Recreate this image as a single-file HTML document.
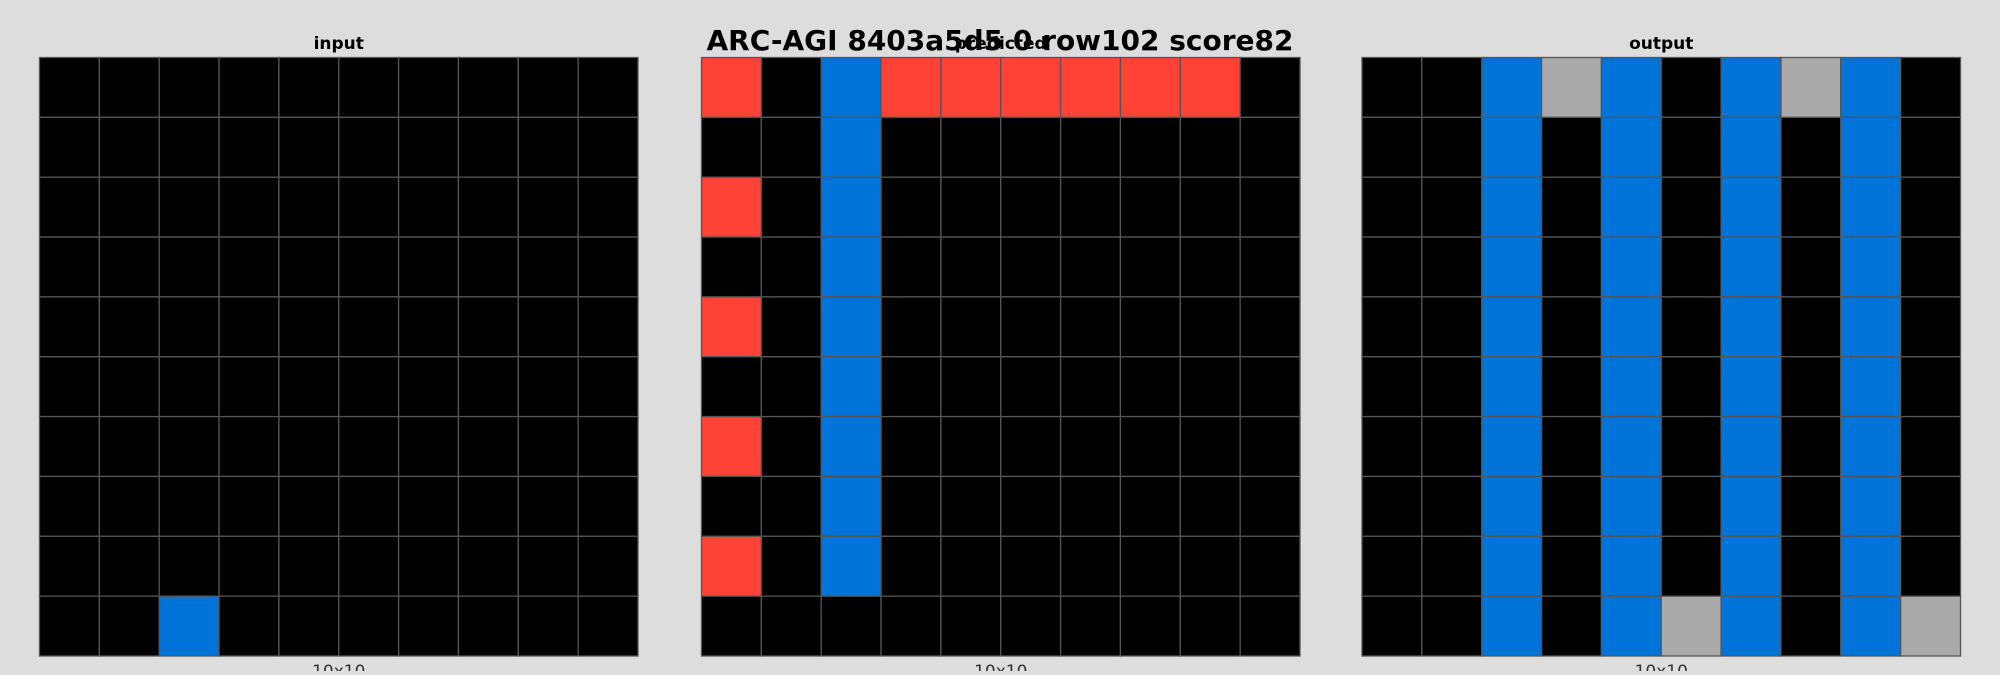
<!DOCTYPE html>
<html><head><meta charset="utf-8"><style>
html,body{margin:0;padding:0;background:#dddddd;}
body{width:2000px;height:671px;overflow:hidden;position:relative;font-family:"DejaVu Sans","Liberation Sans",sans-serif;}
</style></head><body>
<svg id="chart" width="2000" height="671" xmlns="http://www.w3.org/2000/svg"></svg>
<script>
const palette = ["#000000","#0074D9","#FF4136","#2ECC40","#FFDC00","#AAAAAA","#F012BE","#FF851B","#7FDBFF","#870C25"];
const panelTitles = ["input","predicted","output"];
const inputGrid = [
[0,0,0,0,0,0,0,0,0,0],[0,0,0,0,0,0,0,0,0,0],[0,0,0,0,0,0,0,0,0,0],[0,0,0,0,0,0,0,0,0,0],[0,0,0,0,0,0,0,0,0,0],
[0,0,0,0,0,0,0,0,0,0],[0,0,0,0,0,0,0,0,0,0],[0,0,0,0,0,0,0,0,0,0],[0,0,0,0,0,0,0,0,0,0],[0,0,1,0,0,0,0,0,0,0]];
const predictedGrid = [
[2,0,1,2,2,2,2,2,2,0],[0,0,1,0,0,0,0,0,0,0],[2,0,1,0,0,0,0,0,0,0],[0,0,1,0,0,0,0,0,0,0],[2,0,1,0,0,0,0,0,0,0],
[0,0,1,0,0,0,0,0,0,0],[2,0,1,0,0,0,0,0,0,0],[0,0,1,0,0,0,0,0,0,0],[2,0,1,0,0,0,0,0,0,0],[0,0,0,0,0,0,0,0,0,0]];
const outputGrid = [
[0,0,1,5,1,0,1,5,1,0],[0,0,1,0,1,0,1,0,1,0],[0,0,1,0,1,0,1,0,1,0],[0,0,1,0,1,0,1,0,1,0],[0,0,1,0,1,0,1,0,1,0],
[0,0,1,0,1,0,1,0,1,0],[0,0,1,0,1,0,1,0,1,0],[0,0,1,0,1,0,1,0,1,0],[0,0,1,0,1,0,1,0,1,0],[0,0,1,0,1,5,1,0,1,5]];
const grids = [inputGrid, predictedGrid, outputGrid];
const NS="http://www.w3.org/2000/svg";
const svg=document.getElementById('chart');
const panelX=[39.5,701.5,1362];
const gridTop=57.5, gridSize=598.5;
function mk(tag,attrs){const e=document.createElementNS(NS,tag);for(const k in attrs)e.setAttribute(k,attrs[k]);svg.appendChild(e);return e;}
grids.forEach((g,p)=>{
  const rows=g.length, cols=g[0].length, cw=gridSize/cols, ch=gridSize/rows, x0=panelX[p];
  const bg=mk('rect',{x:x0,y:gridTop,width:gridSize,height:gridSize,fill:'#000'});
  
  
  for(let r=0;r<rows;r++)for(let c=0;c<cols;c++){
    const cell=mk('rect',{x:x0+c*cw,y:gridTop+r*ch,width:cw,height:ch,fill:palette[g[r][c]],stroke:'#555',"stroke-width":1.3});
    
    
  }
  const t=mk('text',{x:x0+gridSize/2,y:49,"text-anchor":"middle","font-size":17,"font-weight":"bold",fill:"#000"});
  t.textContent=panelTitles[p];
  
  
  const l=mk('text',{x:x0+gridSize/2,y:677,"text-anchor":"middle","font-size":17,fill:"#333"});
  l.textContent=rows+'x'+cols;
  
  
});
const title=mk('text',{x:1000,y:50,"text-anchor":"middle","font-size":28,"font-weight":"bold",fill:"#000"});
title.textContent="ARC-AGI 8403a5d5 0 row102 score82";


</script>
</body></html>
